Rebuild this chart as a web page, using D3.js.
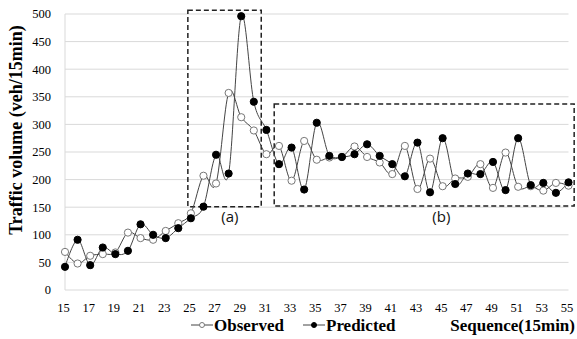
<!DOCTYPE html>
<html>
<head>
<meta charset="utf-8">
<script src="https://cdn.jsdelivr.net/npm/d3@7"></script>
<style>
  body { margin: 0; background: #fff; }
  svg { display: block; }
</style>
</head>
<body>
<svg id="chart" width="577" height="339"></svg>
<script>
// sequence index (15 min steps)
const sequence = d3.range(15, 56);
const xTicks = d3.range(15, 56, 2);
const yTicks = d3.range(0, 501, 50);

const observed = [69, 48, 62, 65, 68, 104, 94, 91, 107, 121,
  139, 207, 193, 357, 313, 289, 246, 261, 198, 270,
  236, 240, 241, 260, 241, 231, 210, 261, 183, 238,
  188, 202, 205, 228, 185, 249, 187, 188, 180, 194, 189];

const predicted = [42, 91, 45, 77, 65, 71, 119, 100, 94, 112,
  130, 151, 245, 211, 496, 341, 290, 228, 258, 182,
  303, 243, 241, 246, 264, 243, 228, 206, 267, 177,
  275, 192, 211, 210, 232, 181, 275, 190, 194, 176, 195];

// dashed boxes: [x0, x1, y0, y1] in data units
const boxes = [
  { name: "(a)", x: [24.76, 30.59], y: [151, 507], lx: 28.1, ly: 123 },
  { name: "(b)", x: [31.62, 55.45], y: [152, 337], lx: 44.9, ly: 123 }
];

const svg = d3.select("#chart");
const x = d3.scaleLinear().domain([15, 55]).range([65, 568.5]);
const y = d3.scaleLinear().domain([0, 500]).range([290, 14]);

const serif = "'Liberation Serif', 'Times New Roman', serif";

// gridlines
svg.append("g")
  .selectAll("line")
  .data(yTicks)
  .enter().append("line")
    .attr("x1", x(15)).attr("x2", x(55))
    .attr("y1", d => y(d)).attr("y2", d => y(d))
    .attr("stroke", "#d9d9d9")
    .attr("stroke-width", 1);

svg.append("line")
  .attr("x1", x(15)).attr("x2", x(15))
  .attr("y1", y(500)).attr("y2", y(0))
  .attr("stroke", "#d9d9d9");

// y tick labels
svg.append("g")
  .attr("font-family", serif)
  .attr("font-size", 12.5)
  .attr("text-anchor", "end")
  .selectAll("text")
  .data(yTicks)
  .enter().append("text")
    .attr("x", 51)
    .attr("y", d => y(d))
    .attr("dy", "0.35em")
    .text(d => d);

// x tick labels
svg.append("g")
  .attr("font-family", serif)
  .attr("font-size", 12.5)
  .attr("text-anchor", "middle")
  .selectAll("text")
  .data(xTicks)
  .enter().append("text")
    .attr("x", d => x(d) - 1.5)
    .attr("y", 312)
    .text(d => d);

// y axis title
svg.append("text")
  .attr("transform", "translate(22,130) rotate(-90)")
  .attr("text-anchor", "middle")
  .attr("font-family", serif)
  .attr("font-weight", "bold")
  .attr("font-size", 18)
  .text("Traffic volume (veh/15min)");

// dashed boxes
const boxG = svg.append("g");
boxes.forEach(b => {
  boxG.append("rect")
    .attr("x", x(b.x[0]))
    .attr("y", y(b.y[1]))
    .attr("width", x(b.x[1]) - x(b.x[0]))
    .attr("height", y(b.y[0]) - y(b.y[1]))
    .attr("fill", "none")
    .attr("stroke", "#222")
    .attr("stroke-width", 1.5)
    .attr("stroke-dasharray", "5,3");
  boxG.append("text")
    .attr("x", x(b.lx))
    .attr("y", y(b.ly))
    .attr("text-anchor", "middle")
    .attr("font-family", "'Open Sans', 'Liberation Sans', sans-serif")
    .attr("font-size", 15)
    .attr("fill", "#111")
    .text(b.name);
});

const line = d3.line()
  .x((d, i) => x(sequence[i]))
  .y(d => y(d))
  .curve(d3.curveCatmullRom.alpha(0));

const series = [
  { name: "Observed", values: observed, fill: "#fff", stroke: "#777" },
  { name: "Predicted", values: predicted, fill: "#000", stroke: "#000" }
];

series.forEach(s => {
  svg.append("path")
    .datum(s.values)
    .attr("d", line)
    .attr("fill", "none")
    .attr("stroke", "#444")
    .attr("stroke-width", 1);
});

series.forEach(s => {
  svg.append("g")
    .selectAll("circle")
    .data(s.values)
    .enter().append("circle")
      .attr("cx", (d, i) => x(sequence[i]))
      .attr("cy", d => y(d))
      .attr("r", 3.6)
      .attr("fill", s.fill)
      .attr("stroke", s.stroke)
      .attr("stroke-width", 1);
});

// legend
const legend = svg.append("g")
  .attr("font-family", serif)
  .attr("font-weight", "bold")
  .attr("font-size", 17);

const legendX = [191, 303];
series.forEach((s, i) => {
  const g = legend.append("g").attr("transform", `translate(${legendX[i]},325)`);
  g.append("line").attr("x1", 0).attr("x2", 22).attr("stroke", "#444");
  g.append("circle").attr("cx", 11).attr("r", 2.5)
    .attr("fill", s.fill).attr("stroke", s.stroke);
  g.append("text").attr("x", 23).attr("y", 6).text(s.name);
});

legend.append("text")
  .attr("x", 575)
  .attr("y", 331)
  .attr("text-anchor", "end")
  .text("Sequence(15min)");
</script>
</body>
</html>
